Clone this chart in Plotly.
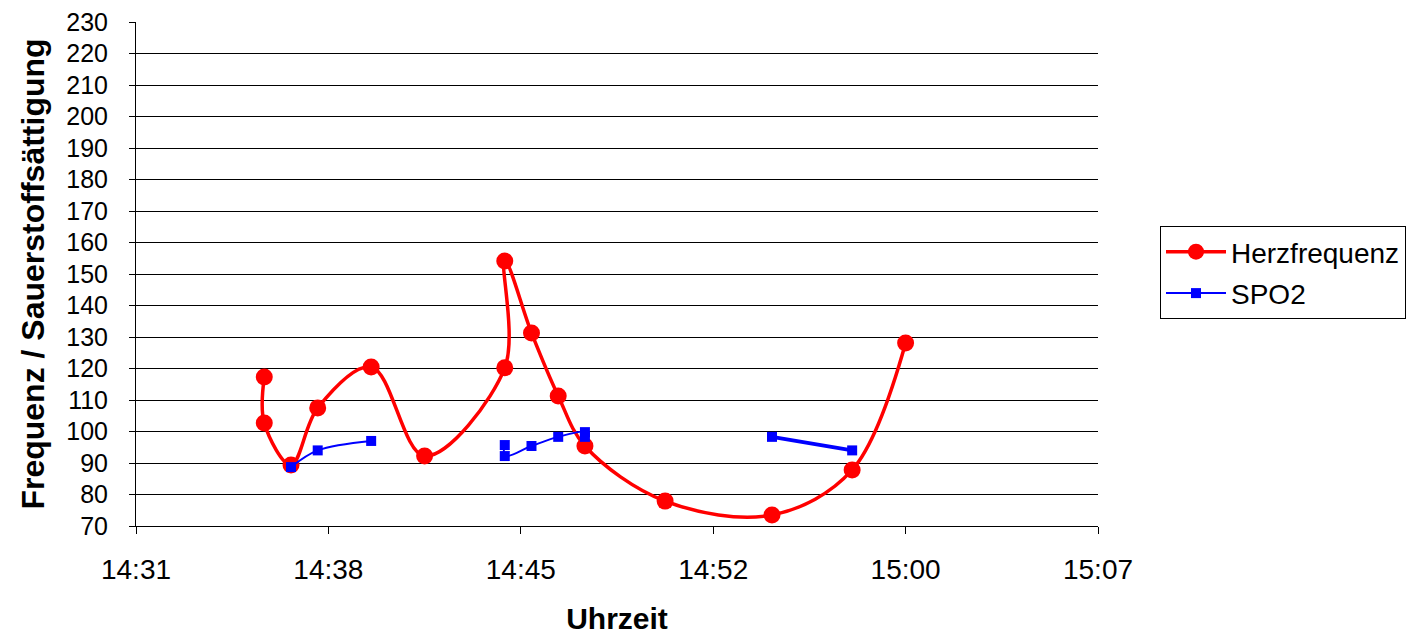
import plotly.graph_objects as go

day = "2024-01-01 "

hf_times = ["14:36", "14:36", "14:37", "14:38", "14:40", "14:42", "14:45", "14:45",
            "14:46", "14:47", "14:48", "14:51", "14:55", "14:58", "15:00"]
hf_values = [117.3, 102.7, 89.4, 107.5, 120.5, 92.2, 120.2, 154.1,
             131.3, 111.3, 95.4, 77.9, 73.5, 87.8, 128.1]

spo2_times = ["14:37", "14:38", "14:40", None, "14:45", "14:45", "14:46", "14:47", "14:48", "14:48"]
spo2_values = [88.7, 94.0, 97.0, None, 95.7, 92.2, 95.4, 98.3, 99.8, 98.3]

spo2_late_times = ["14:55", "14:58"]
spo2_late_values = [98.3, 94.0]

tick_times = ["14:31:12", "14:38:24", "14:45:36", "14:52:48", "15:00:00", "15:07:12"]
tick_labels = ["14:31", "14:38", "14:45", "14:52", "15:00", "15:07"]

def ts(t):
    return None if t is None else day + t

fig = go.Figure()
fig.add_trace(go.Scatter(
    x=[ts(t) for t in hf_times], y=hf_values, name="Herzfrequenz", legendgroup="hf",
    mode="lines+markers", line=dict(color="#ff0000", width=3.5, shape="spline", smoothing=1),
    marker=dict(symbol="circle", size=17, color="#ff0000"),
))
fig.add_trace(go.Scatter(
    x=[ts(t) for t in spo2_times], y=spo2_values, name="SPO2", legendgroup="spo2",
    mode="lines+markers", connectgaps=False,
    line=dict(color="#0000ff", width=2, shape="spline", smoothing=1),
    marker=dict(symbol="square", size=10, color="#0000ff"),
))
fig.add_trace(go.Scatter(
    x=[ts(t) for t in spo2_late_times], y=spo2_late_values, name="SPO2", legendgroup="spo2",
    mode="lines+markers", showlegend=False,
    line=dict(color="#0000ff", width=4),
    marker=dict(symbol="square", size=10, color="#0000ff"),
))

font_family = "Liberation Sans, Arial, sans-serif"
fig.update_layout(
    width=1411, height=637,
    margin=dict(l=136, r=313, t=22, b=111, autoexpand=False),
    paper_bgcolor="white", plot_bgcolor="white",
    font=dict(family=font_family, size=25, color="black"),
    showlegend=True,
    legend=dict(
        xref="container", yref="container",
        x=1160 / 1411, y=1 - 226 / 637, xanchor="left", yanchor="top",
        bordercolor="black", borderwidth=1, bgcolor="white",
        font=dict(size=28), itemwidth=60, tracegroupgap=2,
    ),
    xaxis=dict(
        type="date", automargin=False,
        range=[ts(tick_times[0]), ts(tick_times[-1])],
        tickvals=[ts(t) for t in tick_times], ticktext=tick_labels,
        tickfont=dict(size=28),
        showgrid=False, showline=True, linecolor="black", linewidth=1,
        ticks="outside", ticklen=7, tickcolor="black",
        ticklabelstandoff=11,
        title=dict(text="<b>Uhrzeit</b>", font=dict(size=30), standoff=24),
        zeroline=False,
    ),
    yaxis=dict(
        range=[70, 230], dtick=10, tick0=70, automargin=False,
        tickfont=dict(size=25),
        showgrid=True, gridcolor="black", gridwidth=1,
        showline=True, linecolor="black", linewidth=1,
        ticks="outside", ticklen=6, tickcolor="black",
        ticklabelstandoff=16,
        title=dict(text="<b>Frequenz / Sauerstoffsättigung</b>", font=dict(size=32), standoff=12),
        zeroline=False,
    ),
)

fig.write_html("out.html")
